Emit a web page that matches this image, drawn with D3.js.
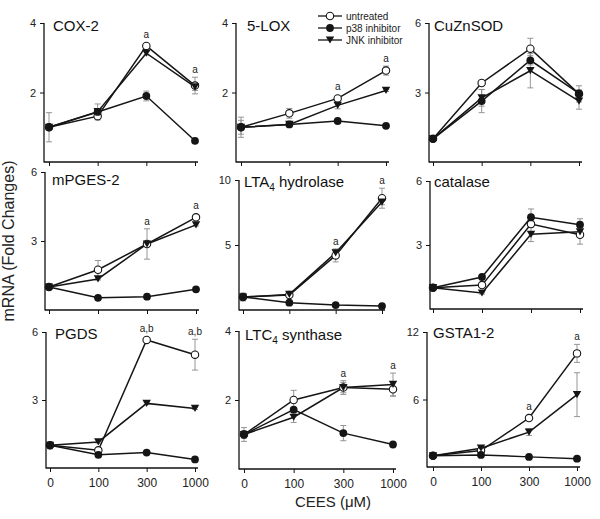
<!DOCTYPE html>
<html><head><meta charset="utf-8">
<script src="https://cdn.jsdelivr.net/npm/d3@7"></script>
<style>
html,body{margin:0;padding:0;background:#fff;}
svg{display:block;font-family:"Liberation Sans",Arial,sans-serif;}
</style></head>
<body>
<svg id="chart" width="600" height="519"></svg>
<script>
// ---------------- DATA ----------------
const doses = ["0", "100", "300", "1000"];
const seriesNames = ["untreated", "p38 inhibitor", "JNK inhibitor"];
const panelTitles = ["COX-2", "5-LOX", "CuZnSOD", "mPGES-2", "LTA_4 hydrolase", "catalase", "PGDS", "LTC_4 synthase", "GSTA1-2"];
const yMax = [4, 4, 6, 6, 10, 6, 6, 4, 12];
const yTicks = [[2, 4], [2, 4], [3, 6], [3, 6], [5, 10], [3, 6], [3, 6], [2, 4], [6, 12]];

// values: [untreated, p38 inhibitor, JNK inhibitor]
const cox2Values   = [[1.0, 1.32, 3.34, 2.20], [1.0, 1.44, 1.90, 0.61], [1.0, 1.45, 3.13, 2.16]];
const cox2Errors   = [[0.42, 0.05, 0.05, 0.24], [0, 0.23, 0.14, 0.03], [0, 0.05, 0.05, 0.10]];
const lox5Values   = [[1.0, 1.40, 1.83, 2.63], [1.0, 1.08, 1.18, 1.04], [1.0, 1.08, 1.63, 2.06]];
const lox5Errors   = [[0.29, 0.14, 0.06, 0.13], [0.20, 0.04, 0.03, 0.03], [0, 0.03, 0.10, 0.03]];
const cuznValues   = [[1.0, 3.41, 4.89, 2.94], [1.0, 2.63, 4.39, 2.96], [1.0, 2.77, 3.94, 2.63]];
const cuznErrors   = [[0.05, 0.10, 0.45, 0.35], [0.05, 0.50, 0.20, 0.15], [0.05, 0.36, 0.74, 0.35]];
const mpgesValues  = [[1.0, 1.75, 2.87, 4.03], [1.0, 0.53, 0.58, 0.90], [1.0, 1.35, 2.87, 3.70]];
const mpgesErrors  = [[0.05, 0.40, 0.66, 0.05], [0, 0.03, 0.03, 0.03], [0, 0.05, 0.10, 0.05]];
const lta4Values   = [[1.0, 1.15, 4.20, 8.60], [1.0, 0.56, 0.38, 0.30], [1.0, 1.20, 4.40, 8.30]];
const lta4Errors   = [[0.30, 0.10, 0.50, 0.77], [0, 0.05, 0.05, 0.05], [0, 0.05, 0.20, 0.20]];
const catValues    = [[1.0, 1.12, 3.98, 3.48], [1.0, 1.50, 4.30, 3.95], [1.0, 0.75, 3.50, 3.62]];
const catErrors    = [[0.05, 0.05, 0.10, 0.44], [0.05, 0.05, 0.39, 0.28], [0.05, 0.05, 0.34, 0.10]];
const pgdsValues   = [[1.0, 0.78, 5.65, 5.00], [1.0, 0.58, 0.68, 0.38], [1.0, 1.15, 2.85, 2.63]];
const pgdsErrors   = [[0.15, 0.05, 0.05, 0.68], [0, 0.03, 0.03, 0.03], [0, 0.05, 0.05, 0.05]];
const ltc4Values   = [[1.0, 2.00, 2.36, 2.31], [1.0, 1.72, 1.04, 0.71], [1.0, 1.50, 2.36, 2.45]];
const ltc4Errors   = [[0.20, 0.28, 0.20, 0.20], [0.10, 0.05, 0.22, 0.03], [0.10, 0.15, 0.15, 0.33]];
const gstaValues   = [[1.0, 1.46, 4.35, 10.10], [1.0, 1.07, 0.90, 0.74], [1.0, 1.67, 3.10, 6.43]];
const gstaErrors   = [[0.05, 0.10, 0.20, 0.80], [0, 0.05, 0.05, 0.05], [0, 0.10, 0.30, 1.95]];

// significance annotations: [dose index, label]
const cox2Marks  = [[2, "a"], [3, "a"]];
const lox5Marks  = [[2, "a"], [3, "a"]];
const cuznMarks  = [];
const mpgesMarks = [[2, "a"], [3, "a"]];
const lta4Marks  = [[2, "a"], [3, "a"]];
const catMarks   = [];
const pgdsMarks  = [[2, "a,b"], [3, "a,b"]];
const ltc4Marks  = [[2, "a"], [3, "a"]];
const gstaMarks  = [[2, "a"], [3, "a"]];

const allValues = [cox2Values, lox5Values, cuznValues, mpgesValues, lta4Values, catValues, pgdsValues, ltc4Values, gstaValues];
const allErrors = [cox2Errors, lox5Errors, cuznErrors, mpgesErrors, lta4Errors, catErrors, pgdsErrors, ltc4Errors, gstaErrors];
const allMarks  = [cox2Marks, lox5Marks, cuznMarks, mpgesMarks, lta4Marks, catMarks, pgdsMarks, ltc4Marks, gstaMarks];

// ---------------- LAYOUT ----------------
const layout = [
  {ax: 44,  x0: 49,  x1: 195, top: 23,  bot: 162, tx: 53,  ty: 31},
  {ax: 236, x0: 241, x1: 386, top: 23,  bot: 162, tx: 247, ty: 31},
  {ax: 429, x0: 433, x1: 579, top: 23,  bot: 162, tx: 434, ty: 31},
  {ax: 45,  x0: 49,  x1: 196, top: 172, bot: 310, tx: 52,  ty: 185},
  {ax: 239, x0: 243, x1: 382, top: 180, bot: 310, tx: 244, ty: 187},
  {ax: 430, x0: 433, x1: 580, top: 181, bot: 309, tx: 434, ty: 187},
  {ax: 46,  x0: 50,  x1: 195, top: 332, bot: 468, tx: 55,  ty: 339},
  {ax: 239, x0: 244, x1: 393, top: 331, bot: 469, tx: 245, ty: 340},
  {ax: 427, x0: 433, x1: 577, top: 332, bot: 467, tx: 433, ty: 338}
];
const lineColor = "#151515";
const errColor = "#8a8a8a";

const svg = d3.select("#chart");

function triPath(cx, cy, w) {
  const h = w * 0.85;
  return `M${cx - w / 2},${cy - h / 2}L${cx + w / 2},${cy - h / 2}L${cx},${cy + h / 2}Z`;
}
function drawMarker(g, type, cx, cy) {
  if (type === 0) {
    g.append("circle").attr("cx", cx).attr("cy", cy).attr("r", 3.7)
      .attr("fill", "#fff").attr("stroke", lineColor).attr("stroke-width", 1.1);
  } else if (type === 1) {
    g.append("circle").attr("cx", cx).attr("cy", cy).attr("r", 3.9)
      .attr("fill", lineColor);
  } else {
    g.append("path").attr("d", triPath(cx, cy, 8.5)).attr("fill", lineColor);
  }
}
function addTitle(g, text, x, y) {
  const t = g.append("text").attr("x", x).attr("y", y)
    .attr("font-size", 15).attr("fill", "#111");
  const parts = text.split(/_(\d)/);
  parts.forEach((p, i) => {
    if (!p) return;
    if (i % 2 === 1) {
      t.append("tspan").attr("font-size", 10).attr("dy", 4).text(p);
    } else {
      const ts = t.append("tspan").text(p);
      if (i > 0) ts.attr("dy", -4);
    }
  });
}

layout.forEach((L, pi) => {
  const g = svg.append("g");
  const x = d3.scalePoint().domain(doses).range([L.x0, L.x1]);
  const y = d3.scaleLinear().domain([0, yMax[pi]]).range([L.bot, L.top]);

  // Y axis
  const yAxis = d3.axisLeft(y).tickValues(yTicks[pi]).tickFormat(d3.format("d"))
    .tickSize(4).tickPadding(4).tickSizeOuter(0);
  const ya = g.append("g").attr("transform", `translate(${L.ax},0)`).call(yAxis);
  ya.select(".domain").remove();
  ya.selectAll("line").attr("stroke", "#111").attr("stroke-width", 1);
  ya.selectAll("text").attr("font-size", 11).attr("fill", "#222").attr("font-family", "Liberation Sans, Arial, sans-serif");
  g.append("line").attr("x1", L.ax).attr("x2", L.ax).attr("y1", y(yMax[pi])).attr("y2", L.bot + 0.5)
    .attr("stroke", "#111").attr("stroke-width", 1.3);

  // X axis
  const showLabels = pi >= 6;
  const xAxis = d3.axisBottom(x).tickSize(4).tickPadding(6).tickSizeOuter(0)
    .tickFormat(showLabels ? (d => d) : () => "");
  const xa = g.append("g").attr("transform", `translate(0,${L.bot})`).call(xAxis);
  xa.select(".domain").remove();
  xa.selectAll("line").attr("stroke", "#111").attr("stroke-width", 1);
  xa.selectAll("text").attr("font-size", 12).attr("fill", "#222").attr("font-family", "Liberation Sans, Arial, sans-serif");
  g.append("line").attr("x1", L.ax).attr("x2", L.x1 + 3).attr("y1", L.bot).attr("y2", L.bot)
    .attr("stroke", "#111").attr("stroke-width", 1.3);

  // title
  addTitle(g, panelTitles[pi], L.tx, L.ty);

  const vals = allValues[pi], errs = allErrors[pi];
  // error bars
  vals.forEach((sv, si) => {
    sv.forEach((v, di) => {
      const e = errs[si][di];
      if (!e) return;
      const cx = x(doses[di]);
      const eg = g.append("g").attr("stroke", errColor).attr("stroke-width", 0.9);
      eg.append("line").attr("x1", cx).attr("x2", cx).attr("y1", y(v - e)).attr("y2", y(v + e));
      eg.append("line").attr("x1", cx - 3).attr("x2", cx + 3).attr("y1", y(v - e)).attr("y2", y(v - e));
      eg.append("line").attr("x1", cx - 3).attr("x2", cx + 3).attr("y1", y(v + e)).attr("y2", y(v + e));
    });
  });
  // lines + markers
  const line = d3.line().x((d, i) => x(doses[i])).y(d => y(d));
  [0, 2, 1].forEach(si => {
    g.append("path").attr("d", line(vals[si])).attr("fill", "none")
      .attr("stroke", lineColor).attr("stroke-width", 1.5);
  });
  [0, 2, 1].forEach(si => {
    vals[si].forEach((v, di) => drawMarker(g, si, x(doses[di]), y(v)));
  });
  // annotations
  allMarks[pi].forEach(([di, lab]) => {
    let topPx = Infinity;
    vals.forEach((sv, si) => {
      topPx = Math.min(topPx, y(sv[di] + errs[si][di]), y(sv[di]) - 4);
    });
    g.append("text").attr("x", x(doses[di])).attr("y", topPx - 4)
      .attr("text-anchor", "middle").attr("font-size", 10).attr("fill", "#222").text(lab);
  });
});

// legend
const leg = svg.append("g");
[16, 28, 40].forEach((ly, si) => {
  leg.append("line").attr("x1", 318).attr("x2", 342).attr("y1", ly).attr("y2", ly)
    .attr("stroke", lineColor).attr("stroke-width", 1.3);
  drawMarker(leg, si, 330, ly);
  leg.append("text").attr("x", 346).attr("y", ly + 3.5).attr("font-size", 10).attr("fill", "#222")
    .text(seriesNames[si]);
});

// axis titles
svg.append("text").attr("transform", "translate(14,241) rotate(-90)")
  .attr("text-anchor", "middle").attr("font-size", 16).attr("fill", "#222")
  .text("mRNA (Fold Changes)");
svg.append("text").attr("x", 333).attr("y", 507).attr("text-anchor", "middle")
  .attr("font-size", 15).attr("fill", "#222").text("CEES (\u03bcM)");
</script>
</body></html>
